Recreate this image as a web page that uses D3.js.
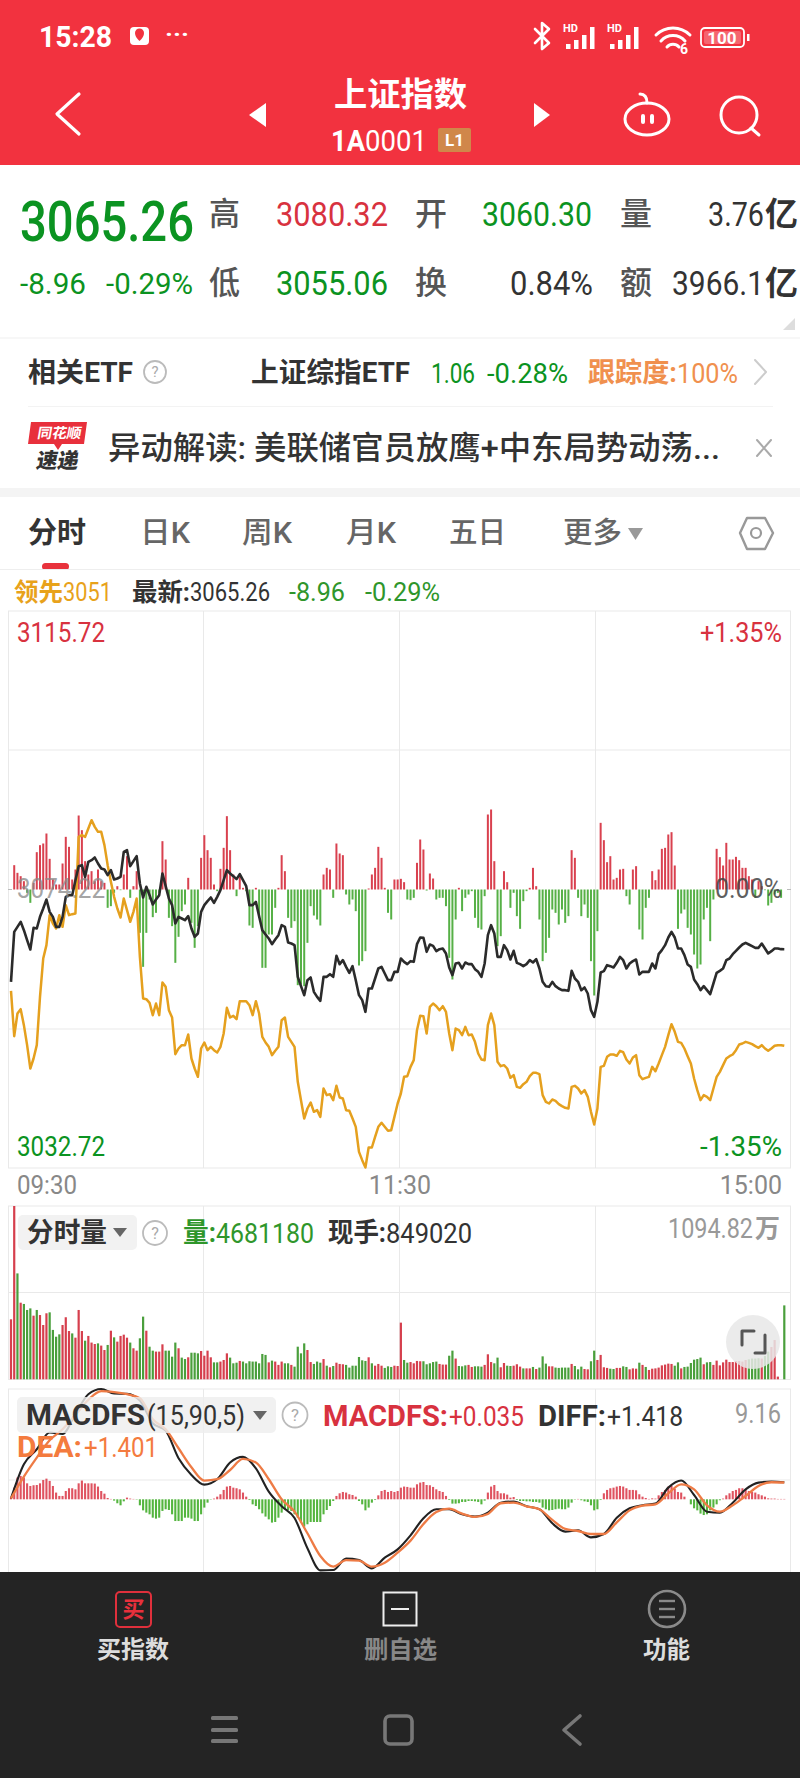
<!DOCTYPE html>
<html><head><meta charset="utf-8">
<script src="https://cdn.jsdelivr.net/npm/d3@7/dist/d3.min.js"></script>
<style>html,body{margin:0;padding:0;background:#fff}svg{display:block}
text{font-family:Roboto,"Noto Sans CJK SC",sans-serif}</style></head>
<body><svg id="c" width="800" height="1778"></svg>
<script>
// change from the previous close (3074.22), index points, one per minute
const indexChange=[-13.85,-6.35,-5.6,-4.85,-6.1,-7.6,-9,-5.75,-5.85,-4.1,-2.85,-1.5,-3.35,-4.1,-5.6,-5.6,-4.1,-1.1,-.85,-.85,1.4,3.5,3.65,1.9,4.15,4.4,4.8,3.9,3.15,3,2.15,2.9,1.5,1.65,1.9,5.65,5.9,3.5,4.25,5,.9,-1.2,.4,-.85,-2.25,-1.5,-.85,2.4,.5,-1.35,-2.35,-5.1,-4.1,-4.35,-4.6,-4,-5.85,-7.1,-6.6,-3.35,-2.35,-1.75,-1.2,-2,-1.1,-.1,1.4,2.9,2.4,2,1.55,2.3,1.4,.5,-2.35,-2.35,-1.85,-4,-6.1,-6.75,-7.35,-8.2,-7.5,-6.85,-5.35,-5.6,-7.95,-8.1,-8.35,-13.1,-14.5,-15.85,-13.6,-13.2,-15.35,-16.1,-16.7,-13.1,-13.1,-12.7,-13.1,-9.95,-11.2,-10.6,-11.6,-12.5,-11.5,-13.6,-15.85,-16.6,-18.35,-14.85,-14.85,-13.35,-11.85,-11.6,-12.6,-13.6,-13.6,-12.35,-12.35,
-10.35,-10.85,-11.2,-10.75,-10.85,-8.2,-7.2,-7.25,-9.35,-8.25,-8.45,-9.25,-8.95,-8.85,-9.6,-11.7,-12.85,-11.1,-11,-11.85,-10.95,-11.2,-11.2,-11.95,-12.35,-13.1,-11.1,-6.85,-5.35,-6.6,-10.1,-10.1,-8.35,-9.1,-10.5,-9.2,-11,-11.2,-11.5,-11.2,-10.6,-10.95,-10.45,-11.85,-13.85,-14.5,-14.6,-13.85,-14.5,-14.85,-15.1,-15.1,-15.2,-12.2,-13.35,-13.85,-15.1,-14.7,-15.6,-18.1,-19.1,-16.85,-12.45,-12.25,-11.35,-11.5,-11.7,-11,-10.1,-10.6,-11.85,-11.1,-10.75,-10.5,-12.75,-12.35,-12.35,-12.35,-11.1,-11.85,-9.7,-9.1,-8.35,-7.2,-6.35,-7.2,-8.85,-8.85,-9.85,-11.25,-11.6,-13.5,-14.2,-15.1,-14.5,-15.1,-15.7,-14.1,-12.5,-12.2,-11.85,-10.6,-10.35,-9.7,-9.2,-8.7,-8.25,-8,-8.25,-8.5,-8.75,-8.75,-8.1,-8.85,-9.6,-9.25,-8.85,-8.85,-8.95,-8.96];
const leadChange=[-15.2,-22,-18.6,-17.95,-20.35,-23.35,-26.85,-25.35,-23.35,-16.1,-10.35,-8.35,-3.85,-5.1,-5.85,-3.85,-5.6,-2.35,-3.85,-3.7,-3.6,7.9,8.15,7.9,9.15,10.4,9.4,8.65,8.65,6.65,3.65,1.15,-1.1,-2.85,-4.2,-1.35,-3.1,-4.85,-3.35,-1.35,-10.1,-16.35,-16.45,-17,-18.85,-17.1,-18.85,-13.95,-14.6,-18.1,-19.2,-24.7,-23.85,-23.35,-23.35,-21.75,-25.35,-26.85,-28.1,-23.85,-22.95,-24.1,-23.6,-24.1,-24.45,-23.6,-21.6,-17.75,-19.2,-18.95,-19.45,-16.75,-16.75,-16.75,-17.35,-18.85,-16.75,-18.6,-22.1,-22.95,-23.6,-24.85,-24.2,-23.6,-19.6,-19.2,-22.1,-22.85,-23.6,-28.85,-31.6,-34.35,-32.85,-31.95,-33.35,-33.1,-34.1,-29.85,-30.85,-30.7,-31.6,-29.45,-31.2,-31.35,-33.1,-33.2,-34.35,-35.6,-39.35,-40.6,-41.7,-38.7,-38.7,-37.1,-35.6,-35,-35.6,-36.2,-36.1,-34.1,-32.1,
-30.6,-28.1,-28,-26.6,-25.6,-21.1,-18.95,-19,-21.6,-17.6,-17.1,-17.5,-18.1,-17.5,-18.35,-21.6,-24.1,-20.85,-21.1,-21.85,-20.6,-21.85,-21.75,-22.85,-24.6,-25.5,-25.6,-20.35,-18.6,-20.35,-25.85,-26.5,-26.35,-26.85,-28.25,-27.85,-29.6,-29.75,-29.2,-28.85,-28,-27.5,-27.5,-27.7,-30.85,-31.85,-32.1,-31.5,-31.7,-32.2,-32.5,-32.75,-32.85,-29.6,-29.45,-29.85,-30.6,-30.1,-31.1,-33.35,-35.25,-32.85,-26.6,-26.45,-25.1,-24.75,-24.75,-24.95,-24.2,-24.4,-25.5,-26.1,-25.2,-24.85,-27.85,-28.45,-28.25,-28.1,-26.6,-27.25,-26.1,-24.85,-23.6,-21.85,-20.2,-21.35,-22.85,-23,-23.85,-25,-26.1,-28.35,-30.1,-31.6,-30.85,-31.1,-31.6,-29.85,-28.1,-27.35,-26.35,-25.35,-25,-24.75,-24.1,-23.25,-23.1,-22.85,-23,-23.2,-23.5,-23.75,-23.35,-23.85,-24.2,-23.85,-23.45,-23.35,-23.35,-23.45];
// net flow bars, one per minute (arbitrary units)
const netFlow=[0,73,50,40,25,-10,-40,20,112,133,138,168,92,30,15,15,78,158,128,30,60,222,178,85,45,55,25,60,25,20,-55,-50,-10,10,-2,45,100,-25,10,55,-130,-232,-130,-30,-83,-70,-10,145,90,-85,-110,-220,-142,-65,-45,35,-100,-175,-110,95,163,118,95,15,-5,62,125,220,118,45,-20,40,5,-5,-108,-115,5,-85,-235,-235,-135,-135,-55,5,103,55,-85,-115,-95,-287,-285,-290,-160,-50,-78,-90,-108,45,65,60,-25,138,108,103,-15,-45,-30,-65,-228,-215,-185,3,45,65,128,95,5,-70,-90,30,30,
32,22,-30,-32,-25,80,150,120,-3,48,33,-30,-25,-25,-50,-205,-270,-90,5,-65,-25,-15,-5,-85,-115,-120,-20,225,240,85,-170,-140,55,22,-55,-10,-80,-118,-35,-5,5,65,10,-90,-215,-190,-145,-60,-70,-105,-60,-100,-80,118,95,-25,-80,-45,-85,-215,-318,-125,200,148,82,100,30,35,60,62,-20,-45,60,70,-120,-150,-55,-25,55,28,60,122,125,165,172,72,-118,-72,-60,-115,-135,-195,-237,-225,-90,-55,-155,-30,122,97,72,140,90,90,98,88,65,65,40,30,-25,25,10,-2,-48,-40,-15,-10,-25,0];
// minute volume, 万
const minuteVolume=[379,1094.82,669,484,476,438,448,402,438,406,343,417,423,312,269,284,343,392,305,290,263,438,305,244,274,232,223,227,213,185,217,307,265,238,274,282,263,232,196,181,259,396,307,206,181,175,175,221,181,181,143,232,196,137,128,139,168,168,164,179,149,181,139,107,107,112,122,164,137,101,105,116,112,101,114,112,112,101,160,154,107,118,112,91,112,101,101,91,80,206,164,227,185,109,97,112,105,128,86,76,84,105,97,95,91,74,86,86,141,120,116,139,101,86,97,86,72,82,78,86,84,
358,122,105,109,101,116,114,114,95,101,109,112,97,93,93,149,181,131,84,82,88,91,78,82,82,80,91,158,109,101,137,76,103,86,84,86,95,80,69,69,69,78,65,74,145,99,82,82,74,72,74,74,74,97,84,63,80,65,63,114,181,122,154,76,72,67,65,72,72,82,78,63,69,67,105,91,78,59,67,69,74,88,93,99,97,86,107,69,78,80,103,124,128,137,95,107,109,91,118,88,107,124,109,109,116,116,112,122,126,131,131,133,131,147,175,204,248,17,0,467];
// u = up minute (red), d = down minute (green), in tens of minutes
const volumeDir=["uududddudu","uudddduuud","uuuduuuduu","duduuuuduu","ddudduuudd","ddudduddd"+"u","uuudduuudd","dudddddddd","uduuuddudd","dduudddudu","duuudddddd","duduuudddu","uudduuuudd","ddduuuddud","dduuddduuu","dduudduuud","uududdduud","dddduddduu","dduuuudduu","dduuududuu","uuuuuuddud","ddddd"+"udduu","uuuuuuuuud","ddd"+"u"+"dd"+"uuuu","d"].join("").split("");
// MACDFS histogram, one per minute
const macdfs=[.14,.97,1.81,1.94,1.81,1.33,1.11,1.17,1.19,1.33,1.61,1.72,1.53,1.11,.56,.28,.28,.69,.92,.92,.83,1.33,1.56,1.33,1.33,1.33,1.31,1.06,.69,.47,.11,.03,-.11,-.33,-.5,-.17,.14,.06,.03,-.03,-.5,-.92,-1.11,-1.25,-1.53,-1.61,-1.53,-.97,-.83,-.89,-1.25,-1.81,-1.81,-1.81,-1.53,-1.53,-1.61,-1.81,-1.81,-1.25,-.69,-.28,-.03,.06,.22,.42,.78,1.06,1.11,.97,.92,.83,.56,.22,-.06,-.42,-.56,-.83,-1.17,-1.44,-1.67,-1.94,-1.89,-1.53,-1.11,-.83,-.89,-.97,-1.25,-1.53,-1.94,-2.28,-2.08,-1.89,-1.89,-1.89,-1.89,-1.25,-.89,-.56,-.14,.28,.5,.61,.56,.42,.36,.22,-.14,-.42,-.92,-.69,-.28,-.06,.33,.69,.78,.61,.69,.61,.69,
.97,1.06,1.03,.97,.97,1.25,1.39,1.44,1.19,1.17,1.03,.83,.69,.61,.28,-.06,-.36,-.36,-.33,-.22,-.22,-.14,-.14,-.17,-.22,-.42,-.11,.56,1.06,1.19,.69,.5,.5,.39,.14,.19,-.06,-.14,-.14,-.17,-.17,-.22,-.22,-.28,-.69,-.83,-.92,-.89,-.83,-.78,-.83,-.83,-.69,-.28,-.03,.03,-.08,-.17,-.22,-.5,-.92,-.83,-.06,.5,.78,.92,.97,1.06,1.11,1.06,.92,.78,.78,.75,.42,.22,.11,.03,.08,.06,.33,.61,.78,1.06,1.11,.89,.61,.56,.22,0,-.42,-.75,-.92,-1.19,-1.31,-1.25,-.92,-.69,-.42,-.08,.06,.33,.5,.69,.78,.92,.92,.78,.69,.61,.56,.42,.33,.22,.08,.06,.06,.03,.03,.03];
// DIFF and DEA, read every four minutes
const macdMinutes=d3.range(0,241,4);
const diffValues=[.08,2.92,4.17,5.56,5.44,7.11,8.75,9.19,8.81,8.78,8.22,6.33,5.72,3.42,2.03,1.22,1.67,3.06,3.53,2.58,.64,-.58,-1.56,-4.08,-5.92,-5.89,-4.94,-5.06,-5.75,-4.86,-4.17,-3,-1.58,-.83,-.83,-1.25,-1.44,-1.11,-.28,-.19,-.58,-.83,-2,-2.69,-2.58,-3.17,-2.89,-1.53,-.75,-.5,-.36,.97,1.56,.36,-1.03,-1.11,-.28,.83,1.39,1.47,1.418];
const deaValues=[.08,1.89,3.47,4.92,5.83,7.03,8.28,9,8.92,8.75,8.42,6.67,5.83,4.25,2.67,1.56,1.67,2.44,3.36,3.06,1.67,0,-1.03,-2.83,-4.72,-5.61,-5.06,-5.11,-5.61,-5.28,-4.44,-3.44,-2.06,-1.06,-.78,-1.19,-1.47,-1.22,-.33,-.28,-.58,-.83,-1.72,-2.47,-2.64,-2.89,-2.89,-1.92,-.92,-.53,-.42,.5,1.25,.83,-.5,-1.03,-.5,.28,1.11,1.42,1.401];
// labels
const priceLabels=["3115.72","3074.22","3032.72"], pctLabels=["+1.35%","0.00%","-1.35%"], timeLabels=["09:30","11:30","15:00"];
const tabLabels=["日K","周K","月K","五日","更多"];

const svg=d3.select("#c"), RED="#f2323f", GREEN="#0b9321", UPC="#d8323f", DN="#2f962b";
function T(x,y,s,o={}){const e=svg.append("text").attr("x",x).attr("y",y).text(s)
 .attr("dominant-baseline","central").attr("font-size",o.size||26).attr("font-weight",o.w||400).attr("fill",o.c||"#333")
 .attr("text-anchor",o.a||"start");if(o.op)e.attr("opacity",o.op);if(o.len)e.attr("textLength",o.len).attr("lengthAdjust","spacingAndGlyphs");if(o.tr)e.attr("transform",o.tr);return e;}
function R(x,y,w,h,f,o={}){return svg.append("rect").attr("x",x).attr("y",y).attr("width",w).attr("height",h).attr("fill",f).attr("rx",o.rx||0).attr("stroke",o.s||"none").attr("stroke-width",o.sw||0);}
function P(d,o={}){return svg.append("path").attr("d",d).attr("fill",o.f||"none").attr("stroke",o.s||"none").attr("stroke-width",o.sw||0).attr("stroke-linecap","round").attr("stroke-linejoin","round");}
function Q(cx,cy,r){svg.append("circle").attr("cx",cx).attr("cy",cy).attr("r",r).attr("fill","none").attr("stroke","#bbb").attr("stroke-width",1.8);T(cx,cy,"?",{size:r*1.35,c:"#aaa",a:"middle"});}

// header
R(0,0,800,165,RED);
T(39,37,"15:28",{size:29,w:700,c:"#fff",len:73});
R(130,27,19,18,"#fff",{rx:4});P("M135 33a4.5 4.5 0 1 1 9 0q0 4-4.5 8q-4.5-4-4.5-8z",{f:RED});
T(165,34,"···",{size:22,w:700,c:"#fff",len:24});
P("M535 29l14 14l-7 6v-26l7 6l-14 14",{s:"#fff",sw:2.6});
svg.selectAll(".bd").data([0,44]).join("g").each(function(dx){const g=d3.select(this);
 g.append("text").attr("x",563+dx).attr("y",28).text("HD").attr("font-size",11).attr("font-weight",700).attr("fill","#fff").attr("dominant-baseline","central");
 [[0,5],[8,9],[16,14],[24,22]].forEach(([a,h])=>g.append("rect").attr("x",566+dx+a).attr("y",49-h).attr("width",4.5).attr("height",h).attr("fill","#fff"));});
P("M656 35a24 24 0 0 1 34 0M661 41a16 16 0 0 1 24 0M667 47a8 8 0 0 1 12 0",{s:"#fff",sw:3});
T(680,49,"6",{size:14,w:700,c:"#fff"});
R(701,28,43,19,"none",{rx:4,s:"#fff",sw:1.8});R(704,31,37,13,"rgba(255,255,255,.25)",{rx:2});T(722,37.5,"100",{size:17,w:700,c:"#fff",a:"middle"});R(747,34,2.5,7,"#fff");
T(334,94,"上证指数",{size:33,w:700,c:"#fff",len:133});
T(331,140,"1A",{size:30,w:700,c:"#fff",len:34});T(365,140,"0001",{size:30,c:"#fff",len:62});
R(438,128,33,24,"#d0874a",{rx:2});T(454.5,140,"L1",{size:17,w:700,c:"#fff",a:"middle"});
P("M79 94L57 114L79 134",{s:"#fff",sw:3.2});
P("M266 103L249 115L266 127Z",{f:"#fff"});P("M534 103L550 115L534 127Z",{f:"#fff"});
svg.append("ellipse").attr("cx",647).attr("cy",119).attr("rx",22).attr("ry",16).attr("fill","none").attr("stroke","#fff").attr("stroke-width",3);
P("M640 94q7 0 7 9",{s:"#fff",sw:3});R(641,114,4,10,"#fff",{rx:2});R(650,114,4,10,"#fff",{rx:2});
svg.append("circle").attr("cx",739).attr("cy",115).attr("r",18).attr("fill","none").attr("stroke","#fff").attr("stroke-width",3);P("M751 128L759 135",{s:"#fff",sw:3});

// quote block
T(20,222,"3065.26",{size:56,w:500,c:GREEN,len:174});
const row=(y,a)=>a.forEach(d=>T(d[0],y,d[1],{size:d[3]||29,c:d[4],w:d[5]||400,len:d[2]}));
row(214,[[209,"高",31,32,"#555",500],[276,"3080.32",112,33,UPC],[415,"开",32,32,"#555",500],[482,"3060.30",110,33,GREEN],[620,"量",32,32,"#555",500],[708,"3.76",56,33,"#333"],[765,"亿",33,33,"#333",700]]);
row(283,[[20,"-8.96",66,30,GREEN],[106,"-0.29%",87,30,GREEN],[209,"低",31,32,"#555",500],[276,"3055.06",112,33,GREEN],[415,"换",32,32,"#555",500],[510,"0.84%",83,33,"#333"],[620,"额",32,32,"#555",500],[672,"3966.1",92,33,"#333"],[765,"亿",33,33,"#333",700]]);
P("M795 318V330H783Z",{f:"#ddd"});
R(0,337.5,800,1,"#efefef");
T(28,373,"相关ETF",{size:27,w:700,c:"#333",len:105});Q(155,372,11);
T(251,373,"上证综指ETF",{size:27,w:700,c:"#333",len:159});T(431,373,"1.06",{size:28,c:GREEN,len:44});T(487,373,"-0.28%",{size:28,c:GREEN,len:81});
T(588,373,"跟踪度:",{size:27,w:700,c:"#f0904e",len:89});T(677,373,"100%",{size:28,c:"#f0904e",len:61});
P("M755 360L766 372L755 384",{s:"#ccc",sw:2});
R(28,406,745,1,"#f3f3f3");
P("M31 422H87L84 444H62L58 450L54 444H28Z",{f:"#e8303c"});T(36,433,"同花顺",{size:14,w:700,c:"#fff",len:44,tr:"skewX(-10) translate(78,0)"});
T(36,461,"速递",{size:21,w:900,c:"#333",len:42,tr:"skewX(-10) translate(82,0)"});
T(108,448,"异动解读: 美联储官员放鹰+中东局势动荡...",{size:32,w:500,c:"#333",len:612});
P("M757 440L771 456M771 440L757 456",{s:"#aaa",sw:2});
R(0,488,800,9,"#f4f4f4");

// tabs
T(28,533,"分时",{size:29,w:700,c:"#333",len:58});
[[140,50],[242,50],[346,50],[449,57],[563,59]].forEach((d,i)=>T(d[0],533,tabLabels[i],{size:29,w:500,c:"#666",len:d[1]}));
P("M628 528H643L635.5 540Z",{f:"#999"});
P("M747 518H765L773 533L765 549H747L740 533Z",{s:"#999",sw:2.4});svg.append("circle").attr("cx",756).attr("cy",533).attr("r",5).attr("fill","none").attr("stroke","#999").attr("stroke-width",2.2);
R(42,563,27,7,"#e8323c",{rx:3.5});R(0,569,800,1,"#eee");
T(14,592,"领先",{size:25,w:700,c:"#e8a21b",len:49});T(63,592,"3051",{size:26,c:"#e8a21b",len:49});
T(132,592,"最新:",{size:25,w:700,c:"#333",len:58});T(190,592,"3065.26",{size:26,c:"#333",len:80});
T(289,592,"-8.96",{size:26,c:"#2f962b",len:56});T(365,592,"-0.29%",{size:26,c:"#2f962b",len:75});

// shared x scale and price panel
const x=d3.scaleLinear().domain([0,240]).range([11,784.3]);
const gridX=[8.5,203.5,399.5,595.5,790.5];
const grid=(y0,y1,ys)=>{gridX.forEach(v=>R(v-.5,y0,1,y1-y0,"#e9e9e9"));ys.forEach(v=>R(8,v-.5,783,1,"#e9e9e9"));};
grid(611,1168,[611,750,1029,1168]);
R(8,889,4,1,"#bbb");R(787,889,4,1,"#bbb");
const yP=d3.scaleLinear().domain([-41.775,41.775]).range([1168,611]);
const yF=d3.scaleLinear().domain([-835.5,835.5]).range([1168,611]);
svg.append("g").selectAll("rect").data(netFlow).join("rect")
 .attr("x",(d,i)=>x(i)-1).attr("width",2).attr("y",d=>yF(Math.max(d,0))).attr("height",d=>Math.abs(yF(d)-yF(0)))
 .attr("fill",d=>d>=0?"#d9414f":"#56b046");
const ln=d3.line().x((d,i)=>x(i)).y(d=>yP(d));
svg.append("path").attr("d",ln(leadChange)).attr("fill","none").attr("stroke","#e5a01e").attr("stroke-width",2.5).attr("stroke-linejoin","round");
svg.append("path").attr("d",ln(indexChange)).attr("fill","none").attr("stroke","#2b2b2b").attr("stroke-width",2.6).attr("stroke-linejoin","round");
T(17,633,priceLabels[0],{size:27,c:UPC,len:88});T(700,633,pctLabels[0],{size:27,c:UPC,len:82});
T(17,888,priceLabels[1],{size:28,c:"#888",len:88,op:.75});T(715,888,pctLabels[1],{size:28,c:"#444",len:67,op:.85});
T(17,1147,priceLabels[2],{size:27,c:GREEN,len:88});T(700,1147,pctLabels[2],{size:27,c:GREEN,len:82});
T(17,1185,timeLabels[0],{size:25,c:"#888",len:60});T(400,1185,timeLabels[1],{size:25,c:"#888",a:"middle"});T(782,1185,timeLabels[2],{size:25,c:"#888",a:"end"});

// volume panel
grid(1206,1379.5,[1206,1292.5,1379.5]);
const yV=d3.scaleLinear().domain([0,1094.82]).range([1379.3,1206]);
svg.append("g").selectAll("rect").data(minuteVolume).join("rect")
 .attr("x",(d,i)=>x(i)-1.1).attr("width",2.2).attr("y",d=>yV(d)).attr("height",d=>yV(0)-yV(d))
 .attr("fill",(d,i)=>volumeDir[i]==="u"?"#d63f4d":"#4a9f3c");
R(18,1215,119,35,"#f2f2f2",{rx:5});
T(27,1233,"分时量",{size:27,w:700,c:"#333",len:80});P("M113 1228H127L120 1237Z",{f:"#666"});Q(155,1233,12);
T(183,1233,"量:",{size:27,w:700,c:DN,len:33});T(216,1233,"4681180",{size:28,c:DN,len:98});
T(328,1233,"现手:",{size:27,w:700,c:"#333",len:58});T(386,1233,"849020",{size:28,c:"#333",len:86});
T(668,1229,"1094.82",{size:27,c:"#999",len:85});T(755,1229,"万",{size:26,w:700,c:"#999",len:25});
svg.append("circle").attr("cx",753).attr("cy",1342).attr("r",27).attr("fill","rgba(232,232,232,.85)");
P("M742 1345V1331H754M765 1335V1353H755",{s:"#555",sw:3});

// MACD panel
grid(1389,1572,[1389,1480]);
const yM=d3.scaleLinear().domain([-9.16,9.16]).range([1609.3,1389.3]);
svg.append("g").selectAll("rect").data(macdfs).join("rect")
 .attr("x",(d,i)=>x(i)-1.05).attr("width",2.1).attr("y",d=>yM(Math.max(d,0))).attr("height",d=>Math.abs(yM(d)-yM(0)))
 .attr("fill",d=>d>=0?"#df5360":"#54b53f");
const lm=d3.line().x((d,i)=>x(macdMinutes[i])).y(d=>yM(d)).curve(d3.curveMonotoneX);
svg.append("path").attr("d",lm(diffValues)).attr("fill","none").attr("stroke","#222").attr("stroke-width",2.1);
svg.append("path").attr("d",lm(deaValues)).attr("fill","none").attr("stroke","#ee7b45").attr("stroke-width",2.3);
R(17,1397,259,36,"rgba(238,238,238,.82)",{rx:5});
T(26,1415,"MACDFS",{size:29,w:700,c:"#333",len:119});T(147,1415,"(15,90,5)",{size:28,c:"#333",len:98});
P("M253 1411H267L260 1420Z",{f:"#666"});Q(295,1415,12.5);
T(323,1416,"MACDFS:",{size:29,w:700,c:"#d8323f",len:125});T(449,1416,"+0.035",{size:28,c:"#d8323f",len:75});
T(538,1416,"DIFF:",{size:29,w:700,c:"#333",len:68});T(607,1416,"+1.418",{size:28,c:"#333",len:76});
T(17,1447,"DEA:",{size:29,w:700,c:"#f47b3e",len:65});T(84,1447,"+1.401",{size:28,c:"#f47b3e",len:74});
T(735,1413,"9.16",{size:28,c:"#999",len:46});

// bottom bar
R(0,1572,800,206,"#242424");
R(116,1592,35,35,"none",{rx:4,s:"#e0303c",sw:2});T(133.5,1609,"买",{size:22,w:700,c:"#e8303c",a:"middle"});
T(97,1650,"买指数",{size:24,w:700,c:"#ddd",len:72});
R(383.5,1592.5,33,33,"none",{s:"#eee",sw:2});R(391,1608,18,2,"#eee");
T(364,1650,"删自选",{size:24,w:700,c:"#888",len:73});
svg.append("circle").attr("cx",667).attr("cy",1609).attr("r",18).attr("fill","none").attr("stroke","#8a8a8a").attr("stroke-width",2.6);
[1601,1609,1617].forEach(v=>R(659,v-1.2,16,2.4,"#8a8a8a"));
T(643,1650,"功能",{size:24,w:700,c:"#ddd",len:47});
[1718,1730,1741].forEach(v=>R(211,v-2,27,4,"#777",{rx:1.5}));
R(385,1716,27,28,"none",{rx:5,s:"#777",sw:3.6});
P("M580 1716L564 1730L580 1744",{s:"#777",sw:3.6});
</script></body></html>
